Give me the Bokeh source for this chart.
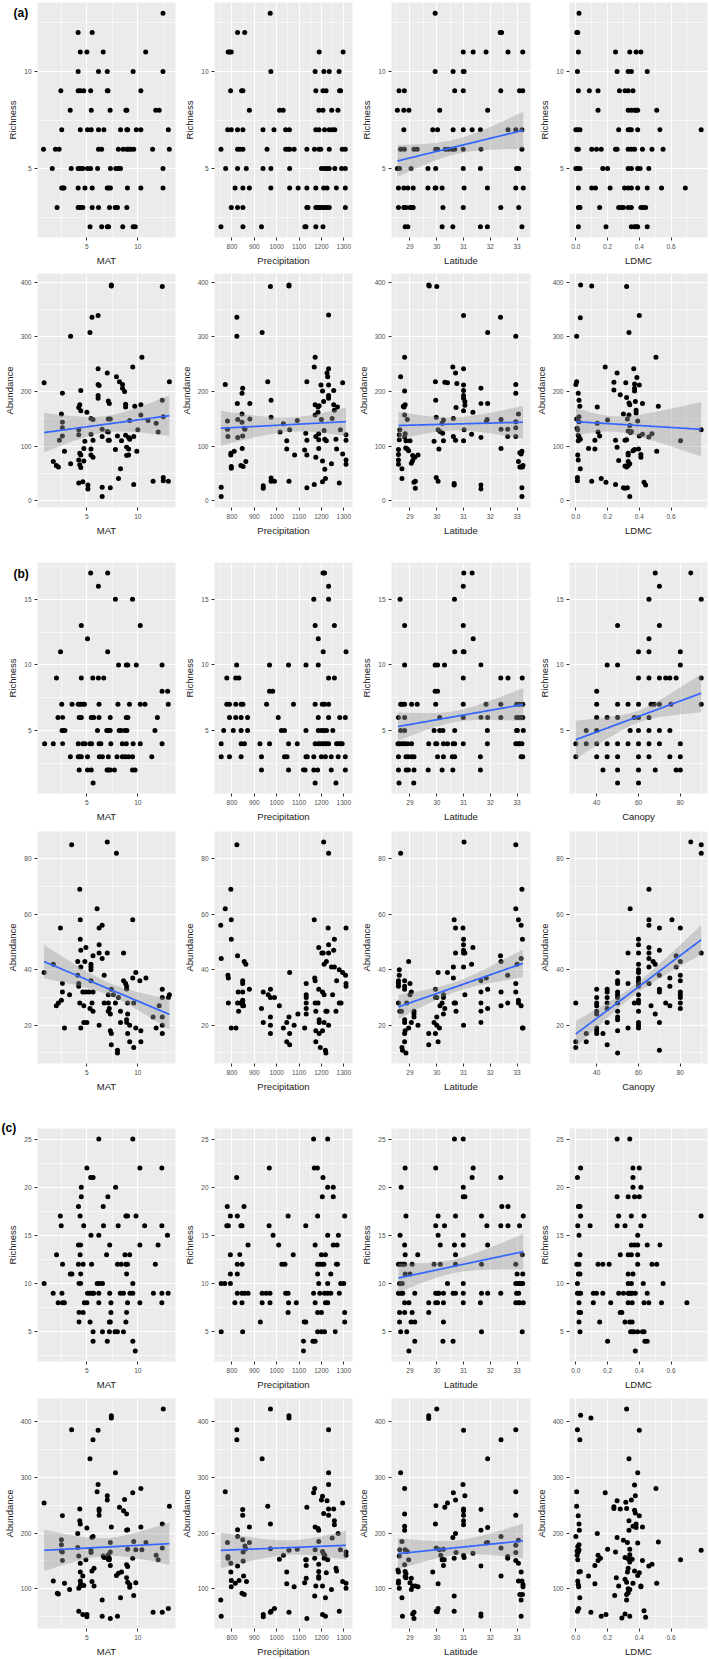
import numpy as np
from bokeh.plotting import figure
from bokeh.models import FixedTicker, Range1d, GridBox, Title
from bokeh.embed import file_html
from bokeh.resources import INLINE

# ---------------- DATA ----------------
# Richness panels: {richness value: [x values of points on that row]}
a_rich_MAT = {
    13: [12.47], 12: [4.14, 5.52], 11: [4.35, 5.0, 6.6, 10.77],
    10: [4.14, 6.14, 7.0, 9.54, 12.47],
    9: [2.44, 4.14, 4.35, 4.69, 5.37, 7.0, 7.07, 10.3],
    8: [3.36, 5.43, 7.28, 8.83, 8.92, 11.76, 12.1],
    7: [2.53, 4.35, 5.06, 5.43, 6.14, 6.67, 8.3, 8.92, 9.0, 9.85, 10.3, 13.0],
    6: [0.74, 1.91, 2.28, 6.14, 6.45, 8.09, 8.55, 8.92, 9.07, 9.32, 9.6, 11.45, 13.09],
    5: [1.6, 3.46, 4.14, 4.35, 4.6, 5.06, 5.37, 6.05, 7.31, 7.84, 8.09, 8.3, 12.47],
    4: [2.53, 2.65, 2.75, 4.14, 4.81, 5.52, 7.0, 7.13, 7.31, 8.98, 10.3, 12.47],
    3: [2.07, 4.14, 4.35, 4.6, 5.52, 6.14, 7.22, 7.78, 8.0, 8.92],
    2: [5.31, 6.45, 7.0, 7.13, 8.52, 9.54, 9.75],
}
a_rich_Precipitation = {
    13: [971], 12: [825, 857], 11: [783, 790, 797, 1190, 1297],
    10: [974, 1172, 1211, 1235, 1279],
    9: [794, 843, 849, 1175, 1207, 1221, 1281, 1286],
    8: [878, 1013, 1029, 1189, 1207, 1246, 1274],
    7: [781, 797, 825, 849, 939, 988, 1040, 1057, 1175, 1189, 1214, 1235, 1249, 1260],
    6: [751, 825, 836, 849, 957, 1040, 1051, 1058, 1078, 1135, 1169, 1189, 1197, 1235, 1293, 1307],
    5: [772, 825, 864, 939, 974, 1058, 1200, 1214, 1225, 1235, 1260, 1290, 1307],
    4: [814, 849, 878, 974, 1058, 1096, 1135, 1175, 1210, 1225, 1267, 1307],
    3: [797, 825, 849, 1135, 1140, 1175, 1183, 1190, 1197, 1207, 1217, 1225, 1235, 1307],
    2: [751, 849, 932, 1126, 1131, 1175, 1207],
}
a_rich_Latitude = {
    13: [29.94], 12: [32.37, 32.42], 11: [30.99, 31.36, 31.84, 32.66, 33.21],
    10: [29.94, 30.61, 30.99, 31.02],
    9: [28.59, 28.79, 30.67, 30.99, 32.39, 33.09, 33.21],
    8: [28.53, 28.77, 28.96, 30.11, 31.9],
    7: [28.77, 29.85, 30.03, 30.61, 30.99, 31.32, 31.63, 32.66, 32.95, 33.18],
    6: [28.65, 28.79, 29.15, 29.27, 29.96, 30.03, 30.32, 30.44, 30.58, 30.67, 30.99, 31.65, 33.18],
    5: [28.53, 28.61, 29.04, 29.67, 29.96, 30.99, 31.63, 32.98, 33.06],
    4: [28.57, 28.77, 28.92, 29.12, 29.67, 29.94, 29.97, 30.2, 31.02, 31.89, 32.95, 33.23],
    3: [28.57, 28.77, 28.85, 29.0, 29.06, 29.12, 30.23, 30.99, 32.39, 33.06],
    2: [28.82, 28.92, 30.2, 30.6, 31.63, 31.89, 33.18],
}
a_rich_LDMC = {
    13: [0.02], 12: [0.006, 0.012], 11: [0.016, 0.25, 0.34, 0.38, 0.41],
    10: [0.01, 0.26, 0.33, 0.35, 0.45],
    9: [0.016, 0.085, 0.14, 0.275, 0.31, 0.33, 0.36],
    8: [0.14, 0.33, 0.35, 0.37, 0.38, 0.39, 0.51],
    7: [0.0, 0.012, 0.026, 0.27, 0.33, 0.34, 0.35, 0.39, 0.53, 0.79],
    6: [0.006, 0.016, 0.10, 0.13, 0.16, 0.25, 0.26, 0.33, 0.35, 0.37, 0.42, 0.48, 0.55],
    5: [0.0, 0.012, 0.026, 0.17, 0.2, 0.33, 0.35, 0.39, 0.405, 0.46],
    4: [0.016, 0.10, 0.124, 0.216, 0.307, 0.33, 0.35, 0.39, 0.45, 0.54, 0.69],
    3: [0.016, 0.026, 0.15, 0.27, 0.285, 0.30, 0.33, 0.35, 0.41, 0.425, 0.44],
    2: [0.016, 0.19, 0.35, 0.37, 0.38, 0.39, 0.45],
}

# Abundance panels: (x, abundance) pairs
a_abun_MAT = [
    (0.8, 216), (1.7, 72), (2.0, 65), (2.2, 62), (2.3, 111), (2.5, 159), (2.6, 197), (2.6, 144), (2.6, 134),
    (2.6, 119), (2.8, 91), (3.4, 301), (3.4, 68), (4.2, 171), (4.3, 176), (4.4, 202), (4.4, 165), (4.2, 130),
    (4.2, 121), (4.2, 75), (4.3, 66), (4.4, 61), (4.3, 87), (4.4, 84), (4.2, 33), (4.6, 35), (4.7, 96),
    (4.8, 109), (4.7, 73), (5.0, 162), (5.1, 29), (5.1, 22), (5.3, 308), (5.5, 336), (5.4, 151), (5.4, 122),
    (5.4, 95), (5.4, 84), (5.6, 149), (5.6, 111), (5.6, 80), (6.1, 339), (6.1, 242), (6.1, 213), (6.2, 211),
    (6.1, 193), (6.1, 188), (6.5, 131), (6.5, 118), (6.5, 25), (6.5, 8), (7.0, 234), (7.1, 183), (7.2, 178),
    (7.1, 150), (7.1, 126), (7.1, 111), (7.2, 111), (7.0, 127), (7.3, 150), (7.3, 24), (7.4, 395), (7.4, 393),
    (7.8, 94), (7.9, 227), (8.0, 119), (8.1, 41), (8.2, 218), (8.3, 59), (8.4, 110), (8.5, 213), (8.5, 206),
    (8.7, 200), (8.8, 172), (8.8, 177), (8.8, 120), (8.9, 98), (8.9, 83), (9.1, 84), (9.1, 116), (9.1, 95),
    (9.2, 113), (9.2, 147), (9.5, 245), (9.6, 30), (9.6, 118), (9.7, 173), (9.9, 91), (10.0, 130), (10.3, 176),
    (10.3, 157), (10.4, 263), (11.0, 147), (11.5, 36), (11.8, 142), (12.0, 126), (12.4, 184), (12.4, 392),
    (12.5, 154), (12.5, 43), (12.5, 37), (13.0, 36), (13.1, 218),
]
a_abun_Precipitation = [
    (752, 25), (752, 8), (770, 213), (780, 146), (780, 131), (782, 118), (795, 87), (795, 84), (797, 63),
    (797, 60), (810, 91), (822, 336), (822, 301), (824, 178), (826, 149), (826, 116), (845, 159), (845, 197),
    (848, 206), (845, 144), (848, 119), (846, 96), (840, 65), (850, 63), (855, 133), (858, 131), (862, 72),
    (880, 178), (880, 150), (935, 308), (940, 28), (940, 23), (960, 218), (972, 392), (975, 184), (975, 153),
    (975, 42), (975, 36), (990, 36), (1015, 126), (1030, 141), (1045, 110), (1045, 95), (1055, 395),
    (1055, 393), (1055, 36), (1058, 130), (1080, 84), (1092, 147), (1125, 93), (1130, 124), (1135, 218),
    (1135, 111), (1135, 84), (1135, 24), (1168, 245), (1168, 30), (1172, 263), (1172, 176), (1172, 157),
    (1175, 118), (1175, 80), (1185, 172), (1185, 162), (1188, 123), (1188, 112), (1188, 96), (1190, 174),
    (1198, 212), (1200, 149), (1205, 201), (1205, 73), (1205, 35), (1210, 182), (1212, 129), (1215, 113),
    (1215, 58), (1218, 41), (1222, 110), (1225, 234), (1228, 227), (1232, 242), (1232, 340), (1232, 212),
    (1232, 193), (1232, 188), (1245, 68), (1248, 151), (1255, 202), (1255, 176), (1258, 166), (1265, 113),
    (1268, 95), (1272, 172), (1280, 33), (1285, 130), (1295, 216), (1295, 86), (1310, 121), (1310, 111),
    (1310, 75), (1310, 67),
]
a_abun_Latitude = [
    (28.57, 94), (28.57, 85), (28.57, 75), (28.57, 67), (28.6, 121), (28.6, 112), (28.62, 130), (28.65, 227),
    (28.7, 59), (28.7, 41), (28.75, 173), (28.78, 172), (28.8, 263), (28.8, 201), (28.82, 176), (28.8, 157),
    (28.82, 123), (28.8, 117), (28.84, 97), (28.85, 110), (28.9, 149), (28.9, 95), (28.95, 92), (29.0, 110),
    (29.05, 69), (29.1, 83), (29.1, 74), (29.15, 34), (29.18, 80), (29.2, 36), (29.2, 23), (29.3, 84),
    (29.7, 395), (29.72, 393), (29.9, 109), (29.95, 218), (29.96, 184), (29.98, 153), (29.98, 43), (30.0, 392),
    (30.05, 36), (30.05, 130), (30.08, 95), (30.12, 127), (30.2, 142), (30.22, 124), (30.25, 110), (30.25, 148),
    (30.3, 217), (30.4, 216), (30.6, 245), (30.62, 151), (30.62, 118), (30.65, 32), (30.65, 29), (30.7, 234),
    (30.7, 111), (30.72, 171), (30.75, 215), (31.0, 339), (31.0, 242), (31.0, 212), (31.0, 202), (31.0, 193),
    (31.0, 188), (31.0, 165), (31.0, 110), (31.02, 130), (31.05, 182), (31.05, 175), (31.35, 162), (31.3, 122),
    (31.65, 206), (31.65, 178), (31.65, 116), (31.65, 29), (31.65, 22), (31.85, 145), (31.88, 149), (31.9, 308),
    (31.9, 178), (32.38, 336), (32.4, 149), (32.4, 96), (32.4, 131), (32.65, 131), (32.65, 118), (32.95, 301),
    (32.95, 213), (32.95, 197), (32.95, 145), (32.95, 134), (32.95, 118), (33.05, 159), (33.05, 72), (33.1, 62),
    (33.1, 88), (33.15, 62), (33.15, 86), (33.18, 91), (33.18, 24), (33.18, 8), (33.2, 62), (33.22, 65),
]
a_abun_LDMC = [
    (0.0, 213), (0.005, 218), (0.005, 150), (0.008, 133), (0.01, 43), (0.01, 37), (0.012, 130), (0.012, 84),
    (0.015, 197), (0.015, 120), (0.015, 110), (0.015, 75), (0.02, 184), (0.02, 154), (0.02, 145), (0.02, 117),
    (0.025, 173), (0.028, 113), (0.028, 59), (0.028, 335), (0.03, 395), (0.005, 301), (0.08, 96), (0.1, 393),
    (0.1, 36), (0.12, 111), (0.12, 95), (0.135, 172), (0.135, 142), (0.14, 126), (0.15, 119), (0.16, 41),
    (0.185, 245), (0.19, 34), (0.2, 148), (0.24, 217), (0.24, 203), (0.25, 30), (0.25, 111), (0.26, 98),
    (0.26, 234), (0.27, 74), (0.28, 194), (0.3, 24), (0.3, 159), (0.31, 23), (0.31, 111), (0.31, 64),
    (0.315, 216), (0.32, 392), (0.32, 189), (0.32, 112), (0.32, 62), (0.325, 150), (0.325, 24), (0.33, 128),
    (0.33, 87), (0.33, 84), (0.33, 72), (0.33, 65), (0.335, 308), (0.335, 179), (0.335, 157), (0.34, 176),
    (0.34, 138), (0.34, 68), (0.34, 8), (0.345, 125), (0.35, 127), (0.36, 92), (0.365, 242), (0.37, 94),
    (0.37, 214), (0.37, 206), (0.37, 201), (0.375, 182), (0.38, 166), (0.38, 161), (0.385, 226), (0.39, 146),
    (0.395, 95), (0.4, 339), (0.4, 212), (0.4, 119), (0.41, 85), (0.41, 80), (0.42, 178), (0.42, 122),
    (0.43, 34), (0.44, 29), (0.46, 117), (0.48, 123), (0.505, 263), (0.51, 91), (0.52, 173), (0.66, 110),
    (0.79, 130),
]

b_rich_MAT = {
    17: [5.37, 7.04], 16: [6.13], 15: [7.8, 9.48], 13: [4.45, 10.24], 12: [5.06], 11: [2.41, 7.04],
    10: [8.11, 8.87, 9.02, 9.85, 12.38],
    9: [2.01, 4.45, 5.58, 6.13, 6.65],
    8: [12.38, 12.93],
    7: [2.53, 3.54, 4.15, 4.36, 4.54, 4.76, 6.19, 8.05, 9.18, 10.24, 10.7, 12.99],
    6: [2.16, 2.62, 4.24, 4.45, 5.43, 5.67, 6.19, 7.29, 8.87, 9.02, 11.92],
    5: [2.56, 2.71, 2.84, 6.04, 6.95, 7.1, 7.29, 8.17, 8.35, 8.72, 8.93, 11.68],
    4: [0.85, 1.7, 2.62, 4.15, 4.6, 4.82, 5.3, 5.46, 6.19, 6.37, 7.35, 8.48, 8.87, 9.54, 10.24, 12.38],
    3: [3.38, 4.15, 4.3, 4.45, 5.06, 6.22, 6.52, 7.1, 7.96, 8.48, 8.78, 9.09, 9.48, 11.37],
    2: [4.24, 5.06, 5.43, 6.98, 7.1, 7.29, 7.71, 9.48, 9.73],
    1: [5.61],
}
b_rich_Precipitation = {
    17: [1207, 1214], 16: [1232], 15: [1166, 1232], 13: [1172, 1258], 12: [1186], 11: [1208, 1310],
    10: [821, 968, 1053, 1131, 1186],
    9: [777, 817, 831, 1232, 1258],
    8: [968, 982],
    7: [777, 789, 817, 841, 849, 955, 1075, 1172, 1204, 1214, 1232],
    6: [789, 817, 841, 870, 1007, 1186, 1232, 1282, 1307],
    5: [763, 806, 841, 870, 1021, 1035, 1131, 1186, 1200, 1211, 1223, 1251],
    4: [752, 841, 856, 925, 968, 1053, 1092, 1172, 1186, 1194, 1204, 1214, 1223, 1232, 1268, 1277, 1285, 1293],
    3: [752, 789, 841, 932, 1035, 1046, 1131, 1137, 1166, 1200, 1218, 1244, 1275, 1307],
    2: [932, 1053, 1120, 1127, 1166, 1183, 1244, 1307],
    1: [1172, 1265],
}
b_rich_Latitude = {
    17: [31.01, 31.32], 16: [30.99], 15: [28.63, 30.66], 13: [28.8, 30.99], 12: [31.36],
    11: [30.67, 30.99, 31.02],
    10: [28.8, 29.94, 30.03, 30.29, 31.65],
    9: [30.99, 32.39, 32.66, 33.19],
    8: [29.94, 30.03],
    7: [28.65, 28.71, 28.8, 29.06, 29.27, 29.96, 30.99, 31.84, 32.39, 32.98, 33.09, 33.21],
    6: [28.57, 28.8, 30.11, 30.99, 31.65, 31.9, 32.39, 32.98, 33.06, 33.15, 33.21],
    5: [28.65, 28.8, 29.9, 30.11, 30.23, 30.67, 31.89, 32.98, 33.01, 33.23],
    4: [28.55, 28.61, 28.71, 28.8, 28.92, 29.06, 29.7, 29.96, 30.0, 30.25, 30.4, 30.61, 30.67, 30.99, 31.89,
        32.95, 33.04, 33.09, 33.18],
    3: [28.57, 28.85, 28.94, 29.06, 29.15, 30.03, 30.25, 30.58, 30.67, 31.63, 33.15, 33.21],
    2: [28.57, 28.86, 28.94, 29.15, 29.68, 30.2, 30.6, 31.63],
    1: [28.59, 29.14],
}
b_rich_Canopy = {
    17: [68, 85], 16: [70], 15: [65, 90], 13: [50, 70], 12: [65], 11: [60, 65, 80],
    10: [45, 50, 80],
    9: [60, 65, 70, 73, 75, 78, 90],
    8: [40],
    7: [40, 50, 55, 60, 66, 67.5, 70, 75.5, 90],
    6: [40, 45, 50, 58, 60, 65],
    5: [35, 40, 56, 60, 65, 70, 75],
    4: [30, 35, 40, 45, 50, 55, 60, 65, 70, 80],
    3: [30, 40, 45, 50, 60, 65, 75, 80],
    2: [43, 50, 60, 68, 78, 80],
    1: [50, 60],
}

b_abun_MAT = [
    (0.8, 39), (1.7, 42), (2.0, 27), (2.2, 28), (2.4, 55), (2.5, 29), (2.6, 35), (2.6, 32), (2.8, 19),
    (3.3, 31), (3.5, 85), (4.1, 43), (4.1, 38), (4.2, 35), (4.2, 34), (4.3, 28), (4.3, 69), (4.35, 58),
    (4.35, 51), (4.4, 47), (4.4, 41), (4.4, 19), (4.6, 32), (4.7, 21), (4.7, 27), (4.8, 43), (4.9, 48),
    (4.9, 32), (5.0, 21), (5.2, 32), (5.3, 26), (5.4, 42), (5.4, 41), (5.4, 40), (5.4, 36), (5.5, 28),
    (5.6, 45), (5.6, 25), (5.6, 32), (6.0, 62), (6.2, 55), (6.2, 49), (6.2, 46), (6.2, 20), (6.5, 56),
    (6.5, 44), (6.7, 38), (6.7, 28), (7.0, 86), (7.0, 46), (7.1, 25), (7.1, 28), (7.1, 31), (7.2, 26),
    (7.3, 24), (7.3, 18), (7.4, 33), (7.4, 17), (7.4, 13), (7.6, 31), (7.8, 28), (7.9, 82), (8.0, 11),
    (8.0, 10), (8.1, 30), (8.3, 25), (8.3, 21), (8.6, 46), (8.6, 36), (8.8, 35), (8.9, 33), (8.9, 34),
    (8.9, 22), (8.9, 21), (9.0, 28), (9.0, 24), (9.0, 17), (9.2, 20), (9.2, 14), (9.5, 58), (9.5, 37),
    (9.6, 12), (9.6, 28), (9.8, 39), (9.8, 19), (10.2, 36), (10.3, 18), (10.3, 14), (10.8, 37), (11.5, 23),
    (11.8, 19), (12.1, 27), (12.4, 33), (12.4, 30), (12.4, 23), (12.4, 20), (12.4, 17), (13.0, 30), (13.1, 31),
]
b_abun_Precipitation = [
    (750, 56), (752, 44), (770, 62), (782, 38), (784, 37), (784, 28), (795, 69), (797, 58), (797, 51),
    (797, 19), (818, 19), (822, 85), (825, 45), (828, 32), (825, 28), (830, 25), (838, 28), (848, 36),
    (848, 35), (848, 32), (848, 29), (848, 28), (848, 27), (852, 27), (855, 43), (862, 42), (878, 33),
    (932, 26), (940, 32), (940, 21), (962, 31), (972, 33), (972, 30), (972, 23), (972, 20), (972, 17),
    (990, 30), (1012, 27), (1030, 19), (1045, 21), (1045, 14), (1055, 23), (1058, 39), (1058, 17), (1058, 13),
    (1078, 20), (1095, 24), (1125, 19), (1132, 35), (1132, 31), (1132, 30), (1132, 28), (1132, 26), (1132, 24),
    (1168, 58), (1170, 37), (1172, 36), (1172, 28), (1175, 25), (1175, 18), (1175, 14), (1185, 28), (1188, 48),
    (1188, 33), (1190, 22), (1190, 21), (1190, 17), (1195, 12), (1202, 46), (1205, 32), (1205, 18), (1208, 46),
    (1210, 86), (1212, 42), (1212, 31), (1212, 21), (1218, 11), (1220, 10), (1220, 25), (1222, 43), (1225, 25),
    (1230, 55), (1232, 82), (1232, 49), (1232, 46), (1232, 20), (1245, 41), (1250, 31), (1255, 47), (1258, 51),
    (1258, 41), (1265, 25), (1268, 36), (1280, 40), (1280, 28), (1288, 28), (1295, 39), (1308, 38), (1310, 55),
    (1310, 35), (1310, 34),
]
b_abun_Latitude = [
    (28.57, 36), (28.57, 35), (28.57, 34), (28.57, 28), (28.6, 40), (28.6, 38), (28.62, 25), (28.65, 82),
    (28.68, 25), (28.7, 12), (28.72, 11), (28.8, 36), (28.8, 34), (28.8, 33), (28.8, 22), (28.8, 21),
    (28.8, 17), (28.8, 14), (28.82, 18), (28.85, 10), (28.88, 28), (28.95, 43), (28.95, 19), (29.0, 35),
    (29.0, 31), (29.05, 32), (29.05, 21), (29.15, 25), (29.15, 24), (29.15, 23), (29.3, 20), (29.7, 17),
    (29.7, 13), (29.9, 21), (29.95, 33), (29.95, 30), (29.95, 17), (30.0, 20), (30.0, 23), (30.0, 30),
    (30.05, 39), (30.05, 14), (30.1, 19), (30.12, 27), (30.2, 28), (30.25, 31), (30.25, 30), (30.25, 24),
    (30.3, 26), (30.4, 39), (30.62, 41), (30.62, 37), (30.65, 58), (30.65, 28), (30.7, 55), (30.7, 46),
    (30.7, 28), (30.72, 25), (30.98, 55), (31.0, 51), (31.0, 49), (31.0, 47), (31.0, 46), (31.0, 41),
    (31.0, 20), (31.02, 86), (31.05, 31), (31.05, 46), (31.3, 42), (31.35, 48), (31.65, 36), (31.65, 32),
    (31.65, 28), (31.65, 25), (31.65, 21), (31.85, 37), (31.9, 33), (31.9, 26), (32.38, 45), (32.4, 43),
    (32.4, 32), (32.4, 27), (32.65, 38), (32.65, 28), (32.95, 85), (32.95, 62), (32.95, 35), (32.95, 32),
    (33.0, 42), (33.05, 58), (33.05, 29), (33.05, 28), (33.15, 56), (33.15, 44), (33.15, 27), (33.18, 69),
    (33.2, 51), (33.2, 19), (33.22, 19),
]
b_abun_Canopy = [
    (30, 28), (30, 14), (30, 12), (35, 17), (35, 14), (40, 33), (40, 30), (40, 28), (40, 27), (40, 25),
    (40, 24), (40, 19), (40, 18), (40, 17), (43, 17), (45, 33), (45, 32), (45, 30), (45, 28), (45, 26),
    (45, 21), (45, 13), (50, 39), (50, 36), (50, 35), (50, 32), (50, 31), (50, 30), (50, 28), (50, 25),
    (50, 23), (50, 22), (50, 18), (50, 10), (55, 46), (55, 35), (55, 19), (56, 62), (58, 28), (60, 51),
    (60, 49), (60, 46), (60, 42), (60, 40), (60, 39), (60, 37), (60, 36), (60, 35), (60, 34), (60, 31),
    (60, 29), (60, 28), (60, 25), (60, 21), (60, 20), (60, 19), (65, 69), (65, 58), (65, 56), (65, 48),
    (65, 46), (65, 44), (65, 41), (65, 35), (66, 27), (67, 43), (68, 42), (68, 24), (70, 55), (70, 47),
    (70, 38), (70, 33), (70, 32), (70, 21), (70, 11), (73, 28), (75, 37), (75, 34), (75, 27), (76, 58),
    (78, 45), (78, 41), (80, 55), (80, 43), (80, 38), (80, 36), (80, 32), (80, 31), (80, 30), (80, 28),
    (80, 26), (85, 86), (90, 85), (90, 82), (90, 46),
]

c_rich_MAT = {
    25: [6.17, 9.51], 22: [5.0, 10.2, 12.36], 21: [5.37, 5.61], 20: [4.45, 7.82], 19: [4.45, 7.06],
    18: [4.17, 6.6], 17: [2.39, 4.33, 8.83, 8.99, 9.82], 16: [2.48, 4.69, 6.63, 8.07, 10.67, 12.36],
    15: [5.4, 6.17, 12.91], 14: [4.17, 4.39, 7.24, 10.2, 11.99], 13: [2.02, 4.33, 6.93, 8.74, 9.2],
    12: [2.61, 4.17, 4.63, 5.46, 8.0, 8.37, 8.83, 8.99, 11.72],
    11: [3.37, 3.53, 4.39, 8.9],
    10: [0.8, 4.23, 4.39, 6.01, 6.23, 6.53, 9.51],
    9: [1.69, 2.55, 5.06, 5.31, 5.55, 5.67, 6.17, 7.24, 8.28, 8.59, 9.23, 9.51, 11.53, 12.36, 12.98],
    8: [2.18, 2.61, 2.79, 4.75, 5.0, 6.17, 7.36, 8.99, 10.2, 12.36],
    7: [4.23, 4.63, 7.36, 8.9],
    6: [4.23, 5.31, 7.21, 7.3, 8.83],
    5: [5.61, 6.53, 7.21, 7.76, 8.0, 8.59],
    4: [5.61, 7.0, 9.51],
    3: [9.75],
}
c_rich_Precipitation = {
    25: [1165, 1228], 22: [967, 1168, 1182], 21: [821, 1207], 20: [1228, 1253], 19: [1204, 1253],
    18: [779, 854], 17: [793, 824, 1051, 1183, 1304], 16: [777, 784, 840, 845, 966, 1130],
    15: [984, 1228, 1276], 14: [872, 1009, 1172, 1253, 1270], 13: [793, 835, 1074, 1200, 1218],
    12: [824, 845, 1023, 1037, 1183, 1193, 1203, 1211, 1267, 1272],
    11: [793, 824, 1183, 1242],
    10: [752, 768, 793, 1188, 1228, 1286, 1300],
    9: [824, 845, 857, 872, 935, 953, 970, 1040, 1051, 1165, 1193, 1214, 1228, 1242, 1280],
    8: [813, 845, 935, 970, 1053, 1088, 1172, 1218, 1228],
    7: [1051, 1183, 1200, 1304],
    6: [927, 1123, 1130, 1304],
    5: [752, 848, 1183, 1200, 1214, 1262],
    4: [1120, 1162, 1172],
    3: [1120],
}
c_rich_Latitude = {
    25: [30.66, 30.99], 22: [28.82, 29.96, 31.36], 21: [31.32, 32.39], 20: [28.67, 30.99],
    19: [30.99, 31.05], 18: [32.43, 32.66], 17: [28.85, 30.05, 30.7, 31.67, 33.23],
    16: [29.96, 30.29, 31.87, 32.39, 32.66, 33.09], 15: [28.63, 30.05, 30.99],
    14: [28.8, 30.13, 30.66, 30.99, 31.9], 13: [28.82, 29.29, 30.7, 33.19],
    12: [28.57, 28.65, 28.73, 28.8, 29.08, 29.9, 30.13, 30.7, 31.67, 32.95],
    11: [28.82, 29.0, 33.0, 33.21],
    10: [28.61, 28.71, 30.4, 30.99, 32.95, 33.04, 33.09, 33.15, 33.21],
    9: [28.57, 28.65, 28.73, 29.18, 29.96, 30.03, 30.08, 30.25, 30.61, 30.7, 30.99, 31.67, 31.9, 32.39,
        32.98, 33.06],
    8: [28.8, 28.96, 29.7, 29.96, 30.03, 30.25, 30.99, 31.63, 32.95, 33.04, 33.09, 33.23],
    7: [28.61, 28.8, 29.08, 29.7],
    6: [28.61, 29.04, 29.18, 30.25],
    5: [28.65, 28.88, 31.67, 33.19],
    4: [29.18, 30.23, 30.61],
    3: [28.96],
}
c_rich_LDMC = {
    25: [0.26, 0.34], 22: [0.03, 0.36, 0.40], 21: [0.01, 0.36], 20: [0.36, 0.41],
    19: [0.26, 0.33, 0.37, 0.40], 18: [0.016, 0.026], 17: [0.03, 0.27, 0.35, 0.43, 0.79],
    16: [0.012, 0.09, 0.26, 0.31, 0.41], 15: [0.02, 0.39], 14: [0.35, 0.37, 0.39, 0.45, 0.53],
    13: [0.026, 0.28, 0.33, 0.35, 0.39],
    12: [0.006, 0.02, 0.14, 0.17, 0.21, 0.39, 0.48, 0.51],
    11: [0.016, 0.026, 0.33, 0.36],
    10: [0.01, 0.33, 0.35, 0.425, 0.55],
    9: [0.01, 0.02, 0.03, 0.11, 0.13, 0.17, 0.27, 0.30, 0.33, 0.335, 0.345, 0.355, 0.375, 0.45],
    8: [0.02, 0.11, 0.22, 0.33, 0.355, 0.43, 0.46, 0.54, 0.70],
    7: [0.02, 0.03, 0.28, 0.29],
    6: [0.02, 0.15, 0.31, 0.34, 0.355],
    5: [0.026, 0.345, 0.356, 0.366, 0.39, 0.42, 0.43],
    4: [0.2, 0.435, 0.45],
    3: [0.375],
}

c_abun_MAT = [
    (0.8, 254), (1.7, 114), (2.1, 92), (2.2, 91), (2.5, 188), (2.5, 179), (2.5, 168), (2.6, 166), (2.6, 231),
    (2.6, 151), (2.8, 110), (3.3, 99), (3.5, 385), (4.1, 199), (4.1, 174), (4.2, 60), (4.2, 101), (4.2, 159),
    (4.3, 243), (4.3, 222), (4.35, 216), (4.35, 146), (4.35, 130), (4.35, 114), (4.35, 105), (4.4, 109),
    (4.6, 123), (4.6, 54), (4.7, 106), (4.9, 152), (5.0, 209), (5.0, 54), (5.0, 50), (5.3, 333), (5.4, 169),
    (5.4, 165), (5.5, 113), (5.5, 192), (5.5, 132), (5.6, 194), (5.6, 367), (5.7, 137), (5.7, 105), (6.0, 274),
    (6.1, 287), (6.1, 384), (6.2, 243), (6.2, 240), (6.2, 232), (6.5, 80), (6.5, 51), (6.6, 159), (6.7, 156),
    (7.0, 267), (7.0, 259), (7.1, 161), (7.1, 153), (7.2, 152), (7.2, 155), (7.3, 142), (7.3, 166), (7.3, 183),
    (7.4, 410), (7.4, 406), (7.4, 211), (7.3, 47), (7.8, 308), (7.9, 124), (8.0, 51), (8.1, 128), (8.2, 246),
    (8.3, 84), (8.4, 130), (8.6, 240), (8.7, 260), (8.9, 234), (8.9, 205), (8.9, 143), (8.9, 120), (9.0, 206),
    (9.0, 171), (9.0, 140), (9.0, 112), (9.2, 103), (9.2, 108), (9.5, 272), (9.5, 155), (9.6, 88), (9.6, 185),
    (9.8, 170), (9.8, 111), (10.3, 280), (10.3, 211), (10.4, 170), (10.8, 183), (11.5, 58), (11.8, 160),
    (12.0, 152), (12.4, 216), (12.4, 173), (12.4, 58), (12.5, 422), (13.0, 65), (13.1, 248),
]
c_abun_Precipitation = [
    (750, 80), (752, 51), (770, 274), (780, 183), (782, 158), (782, 155), (795, 146), (795, 130), (797, 115),
    (797, 104), (815, 110), (822, 385), (822, 367), (825, 206), (825, 194), (825, 141), (832, 115), (845, 92),
    (848, 188), (848, 242), (848, 232), (850, 166), (850, 150), (852, 123), (855, 90), (858, 177), (862, 172),
    (865, 113), (878, 183), (878, 211), (935, 333), (940, 54), (940, 50), (960, 248), (972, 422), (972, 216),
    (972, 172), (972, 58), (975, 60), (990, 65), (1012, 153), (1030, 160), (1045, 109), (1045, 130),
    (1055, 410), (1055, 406), (1055, 58), (1055, 169), (1078, 104), (1092, 171), (1125, 111), (1130, 152),
    (1132, 152), (1132, 142), (1132, 119), (1135, 246), (1135, 47), (1165, 272), (1170, 280), (1170, 155),
    (1170, 87), (1172, 211), (1172, 170), (1175, 105), (1185, 208), (1188, 205), (1188, 185), (1188, 144),
    (1188, 131), (1188, 122), (1188, 119), (1200, 259), (1205, 266), (1205, 105), (1205, 167), (1205, 54),
    (1210, 235), (1210, 163), (1212, 155), (1215, 160), (1218, 51), (1218, 84), (1222, 129), (1225, 258),
    (1228, 152), (1232, 385), (1232, 308), (1232, 287), (1232, 243), (1232, 232), (1245, 99), (1248, 191),
    (1255, 243), (1258, 222), (1258, 215), (1265, 137), (1268, 132), (1275, 199), (1280, 60), (1285, 170),
    (1295, 254), (1295, 113), (1310, 166), (1310, 160), (1310, 110), (1310, 101),
]
c_abun_Latitude = [
    (28.55, 134), (28.57, 130), (28.57, 114), (28.57, 110), (28.6, 101), (28.6, 159), (28.62, 170),
    (28.65, 308), (28.7, 185), (28.7, 84), (28.72, 51), (28.8, 280), (28.8, 234), (28.8, 212), (28.8, 205),
    (28.82, 170), (28.8, 143), (28.82, 131), (28.82, 122), (28.85, 120), (28.85, 127), (28.9, 167),
    (28.95, 152), (29.0, 111), (29.05, 99), (29.05, 119), (29.1, 55), (29.1, 105), (29.15, 58), (29.15, 47),
    (29.2, 105), (29.3, 104), (29.7, 410), (29.7, 405), (29.85, 130), (29.95, 216), (29.97, 249), (29.98, 173),
    (29.98, 60), (30.0, 422), (30.02, 59), (30.05, 65), (30.05, 109), (30.1, 170), (30.15, 160), (30.2, 152),
    (30.22, 152), (30.25, 171), (30.25, 142), (30.28, 152), (30.3, 246), (30.4, 254), (30.6, 192), (30.62, 272),
    (30.65, 155), (30.65, 87), (30.65, 60), (30.7, 259), (30.7, 199), (30.72, 165), (30.98, 287), (31.0, 384),
    (31.0, 243), (31.0, 240), (31.0, 232), (31.0, 222), (31.0, 215), (31.0, 160), (31.02, 156), (31.05, 267),
    (31.35, 164), (31.65, 242), (31.65, 205), (31.65, 141), (31.65, 55), (31.65, 51), (31.85, 182), (31.9, 333),
    (31.9, 210), (31.9, 183), (32.4, 367), (32.4, 194), (32.4, 173), (32.4, 123), (32.65, 158), (32.65, 155),
    (32.95, 385), (32.95, 274), (32.95, 232), (32.95, 178), (32.95, 165), (32.95, 151), (33.05, 187),
    (33.05, 146), (33.05, 114), (33.1, 90), (33.15, 130), (33.15, 51), (33.15, 80), (33.18, 114), (33.2, 90),
    (33.22, 108), (33.22, 104),
]
c_abun_LDMC = [
    (0.0, 194), (0.005, 274), (0.005, 248), (0.008, 168), (0.008, 160), (0.01, 60), (0.01, 385), (0.012, 176),
    (0.012, 152), (0.012, 114), (0.015, 166), (0.015, 231), (0.015, 108), (0.018, 65), (0.018, 104),
    (0.02, 216), (0.02, 179), (0.02, 170), (0.02, 130), (0.022, 205), (0.025, 367), (0.025, 84), (0.028, 131),
    (0.03, 411), (0.08, 123), (0.095, 406), (0.095, 58), (0.12, 109), (0.12, 142), (0.135, 199), (0.14, 160),
    (0.14, 151), (0.155, 155), (0.16, 51), (0.185, 272), (0.19, 54), (0.2, 171), (0.24, 244), (0.24, 247),
    (0.245, 88), (0.25, 166), (0.255, 120), (0.26, 192), (0.26, 258), (0.27, 105), (0.28, 243), (0.29, 48),
    (0.3, 187), (0.31, 55), (0.31, 117), (0.31, 156), (0.315, 255), (0.32, 422), (0.32, 244), (0.32, 112),
    (0.32, 90), (0.32, 80), (0.325, 130), (0.325, 183), (0.33, 154), (0.33, 137), (0.33, 100), (0.33, 93),
    (0.335, 333), (0.335, 222), (0.335, 205), (0.34, 171), (0.34, 161), (0.34, 148), (0.34, 99), (0.34, 51),
    (0.35, 259), (0.355, 153), (0.36, 212), (0.36, 110), (0.37, 286), (0.37, 132), (0.37, 241), (0.375, 236),
    (0.375, 267), (0.38, 216), (0.38, 210), (0.39, 308), (0.39, 182), (0.39, 124), (0.4, 384), (0.4, 231),
    (0.4, 129), (0.41, 104), (0.41, 105), (0.42, 211), (0.42, 151), (0.43, 61), (0.44, 49), (0.46, 141),
    (0.48, 144), (0.505, 280), (0.51, 110), (0.52, 184), (0.66, 152), (0.79, 169),
]

# Linear smoothers:
# (x_start, x_end, fit_at_start, fit_at_end, band_halfwidth_start, band_halfwidth_min, band_halfwidth_end)
smooth_fit = {
    ("a_rich", "Latitude"): (28.53, 33.23, 5.39, 6.97, 0.82, 0.38, 0.95),
    ("a_abun", "MAT"): (0.8, 13.1, 125, 156, 36, 15, 37),
    ("a_abun", "Precipitation"): (750, 1310, 133, 145, 32, 13, 26),
    ("a_abun", "Latitude"): (28.57, 33.22, 138, 144, 25, 12, 30),
    ("a_abun", "LDMC"): (0.0, 0.79, 145, 131, 25, 14, 50),
    ("b_rich", "Latitude"): (28.55, 33.23, 5.3, 6.98, 1.07, 0.42, 1.25),
    ("b_rich", "Canopy"): (30, 90, 4.3, 7.84, 1.45, 0.45, 1.45),
    ("b_abun", "MAT"): (0.8, 13.1, 42.9, 23.9, 6.0, 2.2, 5.5),
    ("b_abun", "Latitude"): (28.57, 33.22, 26.6, 42.3, 4.3, 1.8, 5.0),
    ("b_abun", "Canopy"): (30, 90, 16.8, 50.8, 4.7, 1.8, 5.3),
    ("c_rich", "Latitude"): (28.57, 33.23, 10.57, 13.31, 1.5, 0.7, 1.85),
    ("c_abun", "MAT"): (0.8, 13.1, 169, 181, 37, 16, 38),
    ("c_abun", "Precipitation"): (750, 1310, 169, 178, 32, 13, 26),
    ("c_abun", "Latitude"): (28.55, 33.22, 163, 186, 28, 13, 31),
}

# axis tick values per variable
x_ticks = {
    "MAT": [5, 10],
    "Precipitation": [800, 900, 1000, 1100, 1200, 1300],
    "Latitude": [29, 30, 31, 32, 33],
    "LDMC": [0.0, 0.2, 0.4, 0.6],
    "Canopy": [40, 60, 80],
}
x_tick_labels = {"LDMC": ["0.0", "0.2", "0.4", "0.6"]}
y_ticks = {
    "a_rich": [5, 10], "a_abun": [0, 100, 200, 300, 400],
    "b_rich": [5, 10, 15], "b_abun": [20, 40, 60, 80],
    "c_rich": [5, 10, 15, 20, 25], "c_abun": [100, 200, 300, 400],
}

ROWS = [
    ("a_rich", "Richness", ["MAT", "Precipitation", "Latitude", "LDMC"], "(a)"),
    ("a_abun", "Abundance", ["MAT", "Precipitation", "Latitude", "LDMC"], None),
    ("b_rich", "Richness", ["MAT", "Precipitation", "Latitude", "Canopy"], "(b)"),
    ("b_abun", "Abundance", ["MAT", "Precipitation", "Latitude", "Canopy"], None),
    ("c_rich", "Richness", ["MAT", "Precipitation", "Latitude", "LDMC"], "(c)"),
    ("c_abun", "Abundance", ["MAT", "Precipitation", "Latitude", "LDMC"], None),
]

# ---------------- LAYOUT / STYLE ----------------
X_RANGE = {"MAT": (0.15, 13.7), "Precipitation": (722, 1339), "Latitude": (28.31, 33.5),
           "LDMC": (-0.04, 0.83), "Canopy": (27, 93)}
Y_RANGE = {"a_rich": (1.45, 13.55), "a_abun": (-12, 416), "b_rich": (0.2, 17.8),
           "b_abun": (6.2, 89.8), "c_rich": (1.9, 26.1), "c_abun": (29, 441)}
# (top border, frame height, bottom border) per row; rows add up to 1659 px
ROW_GEOM = {"a_rich": (2, 237, 29), "a_abun": (5, 236, 29), "b_rich": (24, 236, 26),
            "b_abun": (7, 236, 27), "c_rich": (34, 235, 29), "c_abun": (6, 235, 26)}
COL_W = [177, 177, 178, 177]
# panel tag: (horizontal offset from frame left, standoff that drops the text beside the frame top)
TAG_POS = {"(a)": (-24, -34), "(b)": (-24, -36), "(c)": (-36, -13)}
FONT = "Liberation Sans"


def panel_points(key, var):
    data = globals()[f"{key}_{var}"]
    if isinstance(data, dict):
        xs, ys = [], []
        for yv, xl in data.items():
            xs.extend(xl)
            ys.extend([yv] * len(xl))
        return np.array(xs, float), np.array(ys, float)
    arr = np.array(data, float)
    return arr[:, 0], arr[:, 1]


def smooth_band(spec, n=80):
    x0, x1, f0, f1, h0, hmin, h1 = spec
    xg = np.linspace(x0, x1, n)
    fit = f0 + (f1 - f0) * (xg - x0) / (x1 - x0)
    a = np.sqrt(max(h0 ** 2 - hmin ** 2, 1e-12))
    b = np.sqrt(max(h1 ** 2 - hmin ** 2, 1e-12))
    m = x0 + (x1 - x0) * a / (a + b)
    k = (a + b) / (x1 - x0)
    hw = np.sqrt(hmin ** 2 + (k * (xg - m)) ** 2)
    return xg, fit, fit - hw, fit + hw


def minors(ticks, lo, hi):
    step = ticks[1] - ticks[0]
    cand = [ticks[0] - step * 1.5, ticks[0] - step / 2] + [t + step / 2 for t in ticks] + [ticks[-1] + step * 1.5]
    return [c for c in cand if lo <= c <= hi]


def make_panel(key, ylabel, var, width, tag):
    xr, yr = X_RANGE[var], Y_RANGE[key]
    top, fh, bottom = ROW_GEOM[key]
    p = figure(width=width, height=top + fh + bottom,
               x_range=Range1d(*xr), y_range=Range1d(*yr),
               output_backend="svg", toolbar_location=None,
               min_border_left=24, min_border_right=2,
               min_border_top=top, min_border_bottom=bottom)
    p.background_fill_color = "#EBEBEB"
    p.border_fill_color = "white"
    p.outline_line_color = None

    xt = x_ticks[var]
    yt = y_ticks[key]
    xtk = FixedTicker(ticks=xt, minor_ticks=minors(xt, *xr))
    ytk = FixedTicker(ticks=yt, minor_ticks=minors(yt, *yr))
    p.xaxis.ticker = xtk
    p.yaxis.ticker = ytk
    p.xgrid.ticker = xtk
    p.ygrid.ticker = ytk
    if var in x_tick_labels:
        p.xaxis.major_label_overrides = {t: s for t, s in zip(xt, x_tick_labels[var])}

    for g in (p.xgrid, p.ygrid):
        g.grid_line_color = "white"
        g.grid_line_width = 1.1
        g.minor_grid_line_color = "white"
        g.minor_grid_line_width = 0.55

    for ax, lab in ((p.xaxis, var), (p.yaxis, ylabel)):
        ax.axis_label = lab
        ax.axis_line_color = None
        ax.major_tick_line_color = "#333333"
        ax.major_tick_line_width = 1
        ax.major_tick_out = 3
        ax.major_tick_in = 0
        ax.minor_tick_line_color = None
        ax.major_label_text_font = FONT
        ax.major_label_text_font_size = "6.5px"
        ax.major_label_text_color = "#4D4D4D"
        ax.major_label_standoff = 2
        ax.axis_label_text_font = FONT
        ax.axis_label_text_font_size = "9.5px"
        ax.axis_label_text_font_style = "normal"
        ax.axis_label_text_color = "#1A1A1A"
        ax.axis_label_standoff = 3

    xs, ys = panel_points(key, var)
    p.scatter(xs, ys, size=5, fill_color="black", line_color=None)

    if (key, var) in smooth_fit:
        xg, fit, lo, hi = smooth_band(smooth_fit[(key, var)])
        p.varea(x=xg, y1=lo, y2=hi, fill_color="#999999", fill_alpha=0.4)
        p.line(xg, fit, line_color="#3366FF", line_width=1.7)

    if tag:
        off, standoff = TAG_POS[tag]
        p.add_layout(Title(text=tag, align="left", offset=off, standoff=standoff,
                           text_font=FONT, text_font_size="12px", text_font_style="bold",
                           text_color="black"), "above")
    return p


children = []
for r, (key, ylabel, vars_, tag) in enumerate(ROWS):
    for c, var in enumerate(vars_):
        children.append((make_panel(key, ylabel, var, COL_W[c], tag if c == 0 else None), r, c))

layout = GridBox(children=children, spacing=0)
open("out.html", "w").write(file_html(layout, INLINE))
